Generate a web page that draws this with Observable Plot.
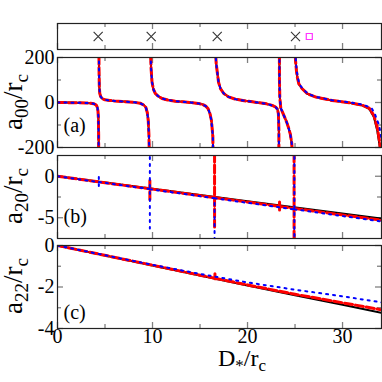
<!DOCTYPE html>
<html><head><meta charset="utf-8">
<script src="https://cdn.jsdelivr.net/npm/d3@7"></script>
<script src="https://cdn.jsdelivr.net/npm/@observablehq/plot@0.6"></script>
<style>
html,body{margin:0;padding:0;background:#fff;font-family:'Liberation Serif','Times New Roman',serif;}
#chart{position:relative;width:382px;height:382px;overflow:hidden;}
#chart svg{position:absolute;left:0;top:0;overflow:visible;}
</style></head><body><div id="chart"></div>
<script>
// ---------- data ----------
const xDomain = [0, 34.1];
const xMajorTicks = [0, 10, 20, 30];
const xMinorTicks = [5, 15, 25];
const xTickLabels = [0, 10, 20, 30];

const crossX = [4.28, 9.86, 16.81, 25.05];
const squareX = [26.5];

const aDomain = [-200, 200];
const aMajorTicks = [-200, 0, 200];
const aMinorTicks = [-100, 100];
const bDomain = [-7.5, 2.5];
const bMajorTicks = [-5, 0];
const bMinorTicks = [-2.5];
const cDomain = [-4, 0];
const cMajorTicks = [-4, -2, 0];
const cMinorTicks = [-3, -1];

const a00BlackX = [
 0, 1, 2, 3, 3.5, 3.8, 4.0, 4.1, 4.2, 4.26, 4.3, 4.33, 4.345, null,
 4.355, 4.37, 4.4, 4.45, 4.55, 4.7, 5.0, 5.5, 6.0, 7.0, 8.0, 8.7, 9.1, 9.3, 9.45, 9.55, 9.62, 9.67, 9.71, null,
 9.73, 9.78, 9.85, 9.95, 10.1, 10.3, 10.6, 11.0, 11.6, 12.4, 13.2, 14.0, 14.8, 15.3, 15.6, 15.85, 16.05, 16.2, 16.35, 16.48, null,
 16.52, 16.6, 16.7, 16.8, 16.95, 17.15, 17.5, 18.0, 18.7, 19.5, 20.5, 21.2, 22.0, 22.6, 22.95, 23.15, 23.25, 23.3, 23.32, null,
 23.34, 23.36, 23.4, 23.5, 23.7, 23.9, 24.1, 24.3, 24.5, 24.65, 24.78, 24.88, 24.93, null,
 24.96, 25.0, 25.05, 25.15, 25.25, 25.4, 25.75, 26.3, 27.2, 28.9, 30.7, 32.1, 32.8, 33.3, 33.65, 33.82, 33.93, 34.0, 34.1
];
const a00BlackY = [
 0, -0.5, -1, -2, -3.5, -5.5, -9, -13, -22, -38, -65, -140, -400, null,
 400, 150, 70, 40, 26, 17, 12, 9, 7, 4, 1, -3, -12, -22, -45, -80, -140, -250, -500, null,
 400, 250, 150, 90, 58, 40, 28, 18, 11, 6, 3, 0, -4, -9, -16, -28, -50, -80, -150, -600, null,
 600, 250, 175, 140, 90, 62, 40, 25, 15, 9, 3, -1, -6, -13, -20, -30, -50, -120, -500, null,
 500, 100, 20, -25, -45, -65, -85, -110, -140, -180, -260, -400, -800, null,
 600, 250, 187, 140, 110, 83, 61, 39, 24, 9, -1, -13, -28, -65, -124, -169, -200, -260, -400
];
const a00RedX = [
 0, 1, 2, 3, 3.5, 3.8, 4.0, 4.1, 4.2, 4.26, 4.3, 4.33, 4.345, null,
 4.355, 4.37, 4.4, 4.45, 4.55, 4.7, 5.0, 5.5, 6.0, 7.0, 8.0, 8.7, 9.1, 9.3, 9.45, 9.55, 9.62, 9.67, 9.71, null,
 9.73, 9.78, 9.85, 9.95, 10.1, 10.3, 10.6, 11.0, 11.6, 12.4, 13.2, 14.0, 14.8, 15.3, 15.6, 15.85, 16.05, 16.2, 16.35, 16.48, null,
 16.52, 16.6, 16.7, 16.8, 16.95, 17.15, 17.5, 18.0, 18.7, 19.5, 20.5, 21.2, 22.0, 22.6, 22.95, 23.15, 23.25, 23.3, 23.32, null,
 23.34, 23.36, 23.4, 23.5, 23.7, 23.9, 24.1, 24.3, 24.5, 24.65, 24.78, 24.88, 24.93, null,
 24.96, 25.0, 25.05, 25.15, 25.25, 25.4, 25.75, 26.3, 27.2, 28.9, 30.7, 32.1, 32.8, 33.3, 33.65, 33.85, 33.97, 34.05, 34.1
];
const a00RedY = [
 0, -0.5, -1, -2, -3.5, -5.5, -9, -13, -22, -38, -65, -140, -400, null,
 400, 150, 70, 40, 26, 17, 12, 9, 7, 4, 1, -3, -12, -22, -45, -80, -140, -250, -500, null,
 400, 250, 150, 90, 58, 40, 28, 18, 11, 6, 3, 0, -4, -9, -16, -28, -50, -80, -150, -600, null,
 600, 250, 175, 140, 90, 62, 40, 25, 15, 9, 3, -1, -6, -13, -20, -30, -50, -120, -500, null,
 500, 100, 20, -25, -45, -65, -85, -110, -140, -180, -260, -400, -800, null,
 600, 250, 187, 140, 110, 83, 61, 39, 24, 9, -1, -12, -25, -58, -110, -160, -200, -250, -300
];
const a00BlueX = [
 0, 1, 2, 3, 3.5, 3.8, 4.0, 4.1, 4.2, 4.26, 4.3, 4.33, 4.345, null,
 4.355, 4.37, 4.4, 4.45, 4.55, 4.7, 5.0, 5.5, 6.0, 7.0, 8.0, 8.7, 9.1, 9.3, 9.45, 9.55, 9.62, 9.67, 9.71, null,
 9.73, 9.78, 9.85, 9.95, 10.1, 10.3, 10.6, 11.0, 11.6, 12.4, 13.2, 14.0, 14.8, 15.3, 15.6, 15.85, 16.05, 16.2, 16.35, 16.5, null,
 16.54, 16.6, 16.7, 16.8, 16.95, 17.15, 17.5, 18.0, 18.7, 19.5, 20.5, 21.2, 22.0, 22.6, 22.95, 23.15, 23.25, 23.3, 23.32, null,
 23.34, 23.36, 23.4, 23.5, 23.7, 23.9, 24.1, 24.3, 24.5, 24.65, 24.78, 24.88, 24.95, null,
 24.98, 25.02, 25.08, 25.18, 25.3, 25.45, 25.8, 26.35, 27.2, 28.9, 30.7, 32.1, 32.8, 33.1, 33.4, 33.65, 33.85, 34.05, 34.1
];
const a00BlueY = [
 0, -0.5, -1, -2, -3.5, -5.5, -9, -13, -22, -38, -65, -140, -400, null,
 400, 150, 70, 40, 26, 17, 12, 9, 7, 4, 1, -3, -12, -22, -45, -80, -140, -250, -500, null,
 400, 250, 150, 90, 58, 40, 28, 18, 11, 6, 3, 0, -4, -9, -16, -28, -50, -80, -150, -600, null,
 600, 250, 175, 140, 90, 62, 40, 25, 15, 9, 3, -1, -6, -13, -20, -30, -50, -120, -500, null,
 500, 100, 20, -25, -45, -65, -85, -110, -140, -180, -260, -400, -800, null,
 600, 250, 187, 140, 110, 83, 61, 39, 25, 10, 1, -9, -20, -28, -50, -80, -100, -150, -165
];

// a20: spikes drawn as separate single-pass vertical pieces
const a20BlackX = [0, 10, 20, 34.1];
const a20BlackY = [0, -1.5, -3.0, -5.1];
const a20RedX = [0, 9.71, null, 9.72, 9.72, null, 9.73, 16.52, null, 16.53, 16.53, null, 16.54, 23.36, null, 23.37, 23.37, null, 23.38, 24.89, null, 24.9, 24.9, null, 24.91, 34.1];
const a20RedY = [0, -1.51, null, -0.5, -3.1, null, -1.51, -2.57, null, 4, -6.1, null, -2.57, -3.63, null, -3.1, -4.3, null, -3.63, -3.87, null, 4, -9, null, -3.87, -5.3];
const a20BlueX = [0, 4.34, null, 4.35, 4.35, null, 4.36, 9.71, null, 9.72, 9.72, null, 9.73, 16.53, 16.53, null, 16.54, 24.92, null, 24.93, 24.93, null, 24.94, 34.1];
const a20BlueY = [0, -0.7, null, -0.1, -1.3, null, -0.7, -1.55, null, 4, -6.3, null, -1.56, -2.65, -9, null, -2.65, -3.99, null, 4, -9, null, -3.99, -5.45];

const a22BlackX = [0, 10, 15, 20, 25, 30, 34.1];
const a22BlackY = [0, -0.96, -1.45, -1.93, -2.4, -2.86, -3.25];
const a22RedX = [0, 10, 15, 16.56, null, 16.57, 16.57, null, 16.58, 20, 25, 30, 34.1];
const a22RedY = [0, -0.95, -1.43, -1.58, null, -1.36, -1.6, null, -1.58, -1.9, -2.35, -2.76, -3.1];
const a22BlueX = [0, 5, 10, 15, 20, 25, 30, 34.1];
const a22BlueY = [0, -0.47, -0.93, -1.37, -1.78, -2.13, -2.45, -2.74];

// ---------- styling ----------
const W = 382, H = 382, ML = 57, MR = 1;
const FONT = "Liberation Serif";
const tickColor = "#808080";
const frameColor = "#222";

function lineMarks(series) {
  return series.map(([X, Y, kind]) => {
    const n = X.length;
    const base = {x: X, y: Y, clip: true};
    if (kind === "black") return Plot.line({length: n}, {...base, stroke: "#000", strokeWidth: 2});
    if (kind === "red") return Plot.line({length: n}, {...base, stroke: "#ff0000", strokeWidth: 3, strokeDasharray: "8,3"});
    return Plot.line({length: n}, {...base, stroke: "#0000ff", strokeWidth: 2, strokeDasharray: "2,5"});
  });
}

function panel({top, bottom, yDomain, yMajor = [], yMinor = [], marks = [], xLabels = false}) {
  const h = bottom - top, w = W - ML - MR;
  const ticks = [
    Plot.tickX(xMajorTicks, {x: d => d, insetBottom: h - 6, stroke: tickColor, strokeWidth: 1.3}),
    Plot.tickX(xMajorTicks, {x: d => d, insetTop: h - 6, stroke: tickColor, strokeWidth: 1.3}),
    Plot.tickX(xMinorTicks, {x: d => d, insetBottom: h - 4, stroke: tickColor, strokeWidth: 1.3}),
    Plot.tickX(xMinorTicks, {x: d => d, insetTop: h - 4, stroke: tickColor, strokeWidth: 1.3}),
    Plot.tickY(yMajor, {y: d => d, insetRight: w - 6, stroke: tickColor, strokeWidth: 1.3}),
    Plot.tickY(yMajor, {y: d => d, insetLeft: w - 6, stroke: tickColor, strokeWidth: 1.3}),
    Plot.tickY(yMinor, {y: d => d, insetRight: w - 4, stroke: tickColor, strokeWidth: 1.3}),
    Plot.tickY(yMinor, {y: d => d, insetLeft: w - 4, stroke: tickColor, strokeWidth: 1.3})
  ];
  const labels = [
    Plot.text(yMajor, {y: d => d, text: d => String(d), frameAnchor: "left", dx: -3, textAnchor: "end", fontSize: 20, fontFamily: FONT, fill: "#000"})
  ];
  if (xLabels) labels.push(Plot.text(xTickLabels, {x: d => d, text: d => String(d), frameAnchor: "bottom", dy: 14, fontSize: 20, fontFamily: FONT, fill: "#000"}));
  return Plot.plot({
    width: W, height: H,
    marginTop: top, marginBottom: H - bottom, marginLeft: ML, marginRight: MR,
    x: {domain: xDomain, axis: null},
    y: {domain: yDomain, axis: null},
    style: {fontFamily: FONT, background: "transparent", overflow: "visible"},
    marks: [...ticks, ...marks, ...labels, Plot.frame({stroke: frameColor, strokeWidth: 1.2})]
  });
}

const chart = document.getElementById("chart");

chart.append(panel({
  top: 23, bottom: 49, yDomain: [0, 1],
  marks: [
    Plot.dot(crossX, {x: d => d, frameAnchor: "middle", symbol: "times", r: 4.2, stroke: "#333", strokeWidth: 1.1}),
    Plot.dot(squareX, {x: d => d, frameAnchor: "middle", symbol: "square", r: 3.4, stroke: "#ff33ff", strokeWidth: 1.2, fill: "none"})
  ]
}));

chart.append(panel({
  top: 57, bottom: 147, yDomain: aDomain, yMajor: aMajorTicks, yMinor: aMinorTicks,
  marks: [
    ...lineMarks([[a00BlackX, a00BlackY, "black"], [a00RedX, a00RedY, "red"], [a00BlueX, a00BlueY, "blue"]]),
    Plot.text(["(a)"], {text: d => d, frameAnchor: "bottom-left", dx: 6, dy: -16, textAnchor: "start", fontSize: 20, fontFamily: FONT, fill: "#000"})
  ]
}));

chart.append(panel({
  top: 155, bottom: 238, yDomain: bDomain, yMajor: bMajorTicks, yMinor: bMinorTicks,
  marks: [
    ...lineMarks([[a20BlackX, a20BlackY, "black"], [a20RedX, a20RedY, "red"], [a20BlueX, a20BlueY, "blue"]]),
    Plot.text(["(b)"], {text: d => d, frameAnchor: "bottom-left", dx: 6, dy: -16, textAnchor: "start", fontSize: 20, fontFamily: FONT, fill: "#000"})
  ]
}));

chart.append(panel({
  top: 245, bottom: 328, yDomain: cDomain, yMajor: cMajorTicks, yMinor: cMinorTicks, xLabels: true,
  marks: [
    ...lineMarks([[a22BlackX, a22BlackY, "black"], [a22RedX, a22RedY, "red"], [a22BlueX, a22BlueY, "blue"]]),
    Plot.text(["(c)"], {text: d => d, frameAnchor: "bottom-left", dx: 6, dy: -10, textAnchor: "start", fontSize: 20, fontFamily: FONT, fill: "#000"})
  ]
}));

// ---------- axis titles with subscripts ----------
const overlay = d3.select(chart).append("svg")
  .attr("width", W).attr("height", H)
  .attr("font-family", FONT);

const yTitles = [
  {cy: 102, sub: "00"},
  {cy: 196, sub: "20"},
  {cy: 286, sub: "22"}
];
yTitles.forEach(t => {
  const txt = overlay.append("text")
    .attr("transform", `translate(22,${t.cy}) rotate(-90)`)
    .attr("text-anchor", "middle")
    .attr("font-family", FONT)
    .attr("font-size", 27).attr("fill", "#000");
  txt.append("tspan").text("a");
  txt.append("tspan").attr("font-size", 19).attr("dy", 6).text(t.sub);
  txt.append("tspan").attr("dy", -6).text("/r");
  txt.append("tspan").attr("font-size", 19).attr("dy", 6).text("c");
});

const xt = overlay.append("text")
  .attr("x", 218).attr("y", 366)
  .attr("font-family", FONT)
  .attr("font-size", 24).attr("fill", "#000");
xt.append("tspan").text("D");
xt.append("tspan").attr("font-size", 17).attr("dy", 5).text("*");
xt.append("tspan").attr("dy", -5).text("/r");
xt.append("tspan").attr("font-size", 17).attr("dy", 5).text("c");
</script>
</body></html>
